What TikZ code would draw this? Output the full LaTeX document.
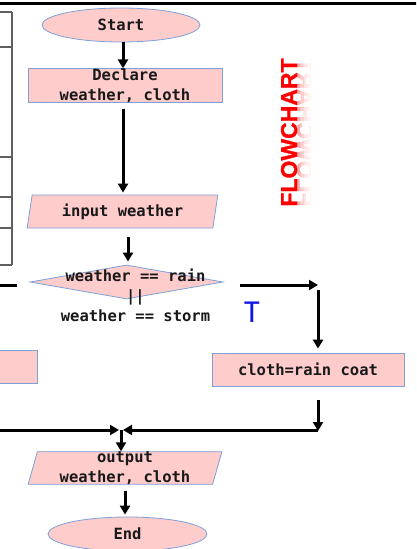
\documentclass[tikz,border=0pt]{standalone}
\usepackage{fontspec}
\usepackage{graphicx}
\usetikzlibrary{shapes.geometric,arrows.meta}
\newfontfamily\codefont{DejaVu Sans Mono}
\newfontfamily\bannerfont{Liberation Sans Bold}[FakeBold=1.2]
\newfontfamily\markfont{Carlito}
\definecolor{boxpink}{RGB}{255,204,204}
\definecolor{edgeblue}{RGB}{125,160,215}
\definecolor{inkdark}{RGB}{25,25,25}
\definecolor{tablegray}{RGB}{95,95,95}
\definecolor{bannerred}{RGB}{255,0,0}
\definecolor{markblue}{RGB}{20,20,230}

\tikzset{
  shapebase/.style={draw=edgeblue, fill=boxpink, line width=0.8pt, inner sep=0pt,
    font=\codefont\bfseries\fontsize{15.5}{19.5}\selectfont, text=inkdark, align=center},
  startend/.style={shapebase, ellipse, minimum width=158pt, minimum height=34pt},
  procbox/.style={shapebase, rectangle, minimum height=33pt},
  iobox/.style={shapebase, trapezium, trapezium left angle=78, trapezium right angle=102,
    trapezium stretches=true, minimum height=33pt},
  decisionbox/.style={shapebase, diamond, minimum width=193pt, minimum height=34pt},
  codetext/.style={font=\codefont\bfseries\fontsize{15.5}{20}\selectfont, text=inkdark,
    align=center, inner sep=0pt},
  flowarrow/.style={line width=3pt, -{Triangle[length=9pt,width=10pt]}},
  flowline/.style={line width=3pt},
  tableline/.style={draw=tablegray, line width=1.3pt},
  bannertext/.style={rotate=90, anchor=base, inner sep=0pt, text=bannerred,
    font=\bannerfont\fontsize{23}{23}\selectfont},
}

\begin{document}
\begin{tikzpicture}[x=1pt,y=-1pt]
\useasboundingbox (0,0) rectangle (416,549);
\clip (0,0) rectangle (416,549);

% rule across the top
\draw[line width=3pt] (-5,3) -- (421,3);

% edge of the table on the left
\draw[tableline] (12,12) -- (12,265);
\foreach \yy in {12,47,157,197,228,265}
  \draw[tableline] (-5,\yy) -- (12,\yy);

% flowchart shapes
\node[startend] (start) at (121,25) {Start};
\node[procbox, minimum width=194pt] (declare) at (125,85.5) {Declare\\weather, cloth};
\node[iobox, minimum width=191pt] (input) at (122.5,211.5) {input weather};
\node[decisionbox] (cond) at (126.5,282) {};
\node[codetext] (condtext) at (135.5,295) {weather == rain\\||\\weather == storm};
\node[procbox, minimum width=192pt] (cloth) at (308,369.5) {cloth=rain coat};
\node[procbox, minimum width=77pt] (otherbox) at (-1.5,366.5) {};
\node[iobox, minimum width=194pt, minimum height=32pt] (output) at (125,468) {output\\weather, cloth};
\node[startend, minimum width=159pt] (finish) at (127.5,534) {End};

% vertical title
\node[bannertext] (banner) at (297,132.5) {FLOWCHART};
% its mirrored reflection, fading out in narrow bands
\foreach \xa/\xb/\op in {297/300.5/0.30, 300.5/304/0.18, 304/307.5/0.09, 307.5/311/0.04}{
  \begin{scope}
    \clip (\xa,40) rectangle (\xb,220);
    \node[bannertext, opacity=\op] at (banner.base) {\scalebox{1}[-1]{FLOWCHART}};
  \end{scope}
}

% true-branch mark
\node[text=markblue, inner sep=0pt, font=\markfont\fontsize{32}{32}\selectfont] (tmark) at (252,312) {T};

% helper points for the branch lines
\coordinate (yesfrom) at (240,285);
\coordinate (yescorner) at (318,285);
\coordinate (yesdrop) at (318,290);
\coordinate (clothout) at (318,400);
\coordinate (clothcorner) at (318,431);
\coordinate (mergeright) at (318,430);
\coordinate (joinright) at (123,430);
\coordinate (mergeleft) at (-10,430);
\coordinate (joinleft) at (119,430);
\coordinate (join) at (121,430);
\coordinate (noleft) at (17,285);
\coordinate (noedge) at (-10,285);

% connectors
\draw[flowarrow] ([xshift=2pt]start.south) -- ([xshift=2pt]start.south |- declare.north);
\draw[flowarrow, shorten <=6pt, shorten >=2pt] ([xshift=-2pt]declare.south) -- ([xshift=-2pt]declare.south |- input.north);
\draw[flowarrow, shorten <=9pt, shorten >=3pt] ([xshift=1.5pt]cond.north |- input.south) -- ([xshift=1.5pt]cond.north);
\draw[flowarrow] (yesfrom) -- (yescorner);
\draw[flowarrow, shorten >=4pt] (yesdrop) -- (yesdrop |- cloth.north);
\draw[flowarrow] (clothout) -- (clothcorner);
\draw[flowarrow] (mergeright) -- (joinright);
\draw[flowarrow] (mergeleft) -- (joinleft);
\draw[flowarrow] (join) -- (join |- output.north);
\draw[flowline] (noleft) -- (noedge);
\draw[flowarrow, shorten <=6pt, shorten >=2pt] (output.south) -- (output.south |- finish.north);
\end{tikzpicture}
\end{document}
